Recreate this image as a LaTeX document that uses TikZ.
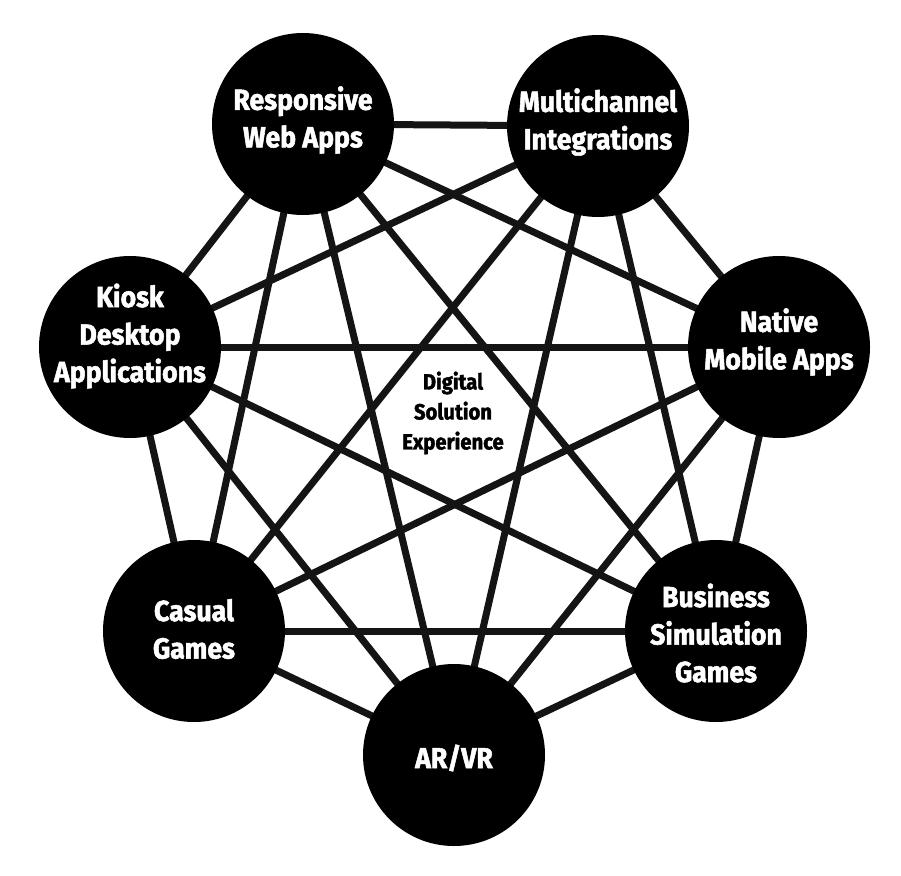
\documentclass[tikz,border=0pt]{standalone}
\usepackage{fontspec}
\newfontfamily\labfont[FakeStretch=0.92,FakeBold=1.8]{Fira Sans}
\usetikzlibrary{backgrounds}
\tikzset{
  hubtext/.style={text=white, align=center, font=\labfont\bfseries\fontsize{29}{37.5}\selectfont},
  hub/.style={circle, fill=black, minimum size=182pt, inner sep=0pt},
  link/.style={line width=7pt, draw=black!92},
  centre/.style={align=center, text=black, font=\labfont\bfseries\fontsize{22}{30}\selectfont}
}
\begin{document}
\begin{tikzpicture}[x=1pt,y=-1pt]
\useasboundingbox (0,0) rectangle (901,875);
\node[hub, label={[hubtext,yshift=-3pt]center:AR/VR}] (arvr) at (454,755) {};
\node[hub, label={[hubtext,yshift=-2pt]center:Business\\Simulation\\Games}] (bus) at (716,631) {};
\node[hub, label={[hubtext,yshift=5pt]center:Native\\Mobile Apps}] (nat) at (779,347) {};
\node[hub, label={[hubtext,yshift=4pt]center:Multichannel\\Integrations}] (mul) at (598,126) {};
\node[hub, label={[hubtext,yshift=4pt]center:Responsive\\Web Apps}] (res) at (303,124) {};
\node[hub, label={[hubtext,yshift=11pt]center:Kiosk\\Desktop\\Applications}] (kio) at (130,347) {};
\node[hub, label={[hubtext,yshift=2pt]center:Casual\\Games}] (cas) at (194,631) {};
\node[centre] (mid) at (453,413) {Digital\\Solution\\Experience};
\begin{scope}[on background layer]
\foreach \a/\b in {arvr/bus,arvr/nat,arvr/mul,arvr/res,arvr/kio,arvr/cas,
  bus/nat,bus/mul,bus/res,bus/kio,bus/cas,
  nat/mul,nat/res,nat/kio,nat/cas,
  mul/res,mul/kio,mul/cas,
  res/kio,res/cas,
  kio/cas}
  \draw[link] (\a.center) -- (\b.center);
\end{scope}
\end{tikzpicture}
\end{document}
